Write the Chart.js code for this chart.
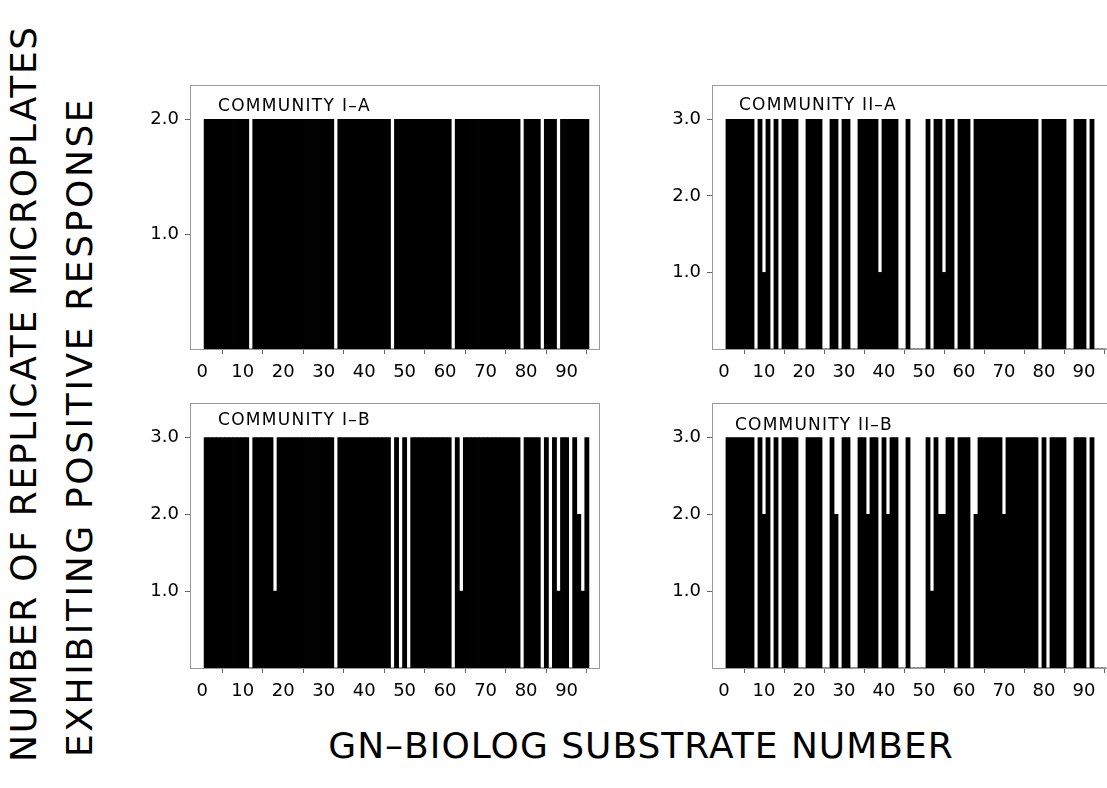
<!DOCTYPE html>
<html>
<head>
<meta charset="utf-8">
<script src="https://cdn.jsdelivr.net/npm/chart.js@4.4.1/dist/chart.umd.min.js"></script>
<style>
  html, body { margin: 0; padding: 0; background: #fff; overflow: hidden; }
  body { width: 1107px; height: 788px; position: relative; font-family: "DejaVu Sans", sans-serif; }
  canvas { position: absolute; }
  .label { position: absolute; font-size: 17px; line-height: 17px; letter-spacing: 1.3px; white-space: nowrap; color: #000; }
  .big { position: absolute; font-size: 36px; line-height: 36px; white-space: nowrap; color: #000; }
  .rot { transform-origin: left top; transform: rotate(-90deg); }
</style>
</head>
<body>
<canvas id="chartIA" width="473" height="313" style="left:130px;top:81px"></canvas>
<canvas id="chartIIA" width="460" height="313" style="left:652px;top:81px"></canvas>
<canvas id="chartIB" width="473" height="314" style="left:130px;top:399px"></canvas>
<canvas id="chartIIB" width="460" height="314" style="left:652px;top:399px"></canvas>

<div class="label" style="left:218px;top:97px">COMMUNITY I–A</div>
<div class="label" style="left:739px;top:96px;letter-spacing:1.2px">COMMUNITY II–A</div>
<div class="label" style="left:218px;top:411px">COMMUNITY I–B</div>
<div class="label" style="left:735px;top:416px;letter-spacing:1.2px">COMMUNITY II–B</div>

<div class="big rot" style="left:6px;top:762px;letter-spacing:1.7px">NUMBER OF REPLICATE MICROPLATES</div>
<div class="big rot" style="left:62px;top:757px;letter-spacing:2.6px">EXHIBITING POSITIVE RESPONSE</div>
<div class="big" style="left:0;width:1282px;text-align:center;top:728px;letter-spacing:1px">GN–BIOLOG SUBSTRATE NUMBER</div>

<script>
// substrate numbers 1..95 on the GN plate
const substrates = Array.from({ length: 95 }, (_, i) => i + 1);

const xTicks = [0, 10, 20, 30, 40, 50, 60, 70, 80, 90];
const yTicksI = [1, 2];
const yTicksII = [1, 2, 3];

// number of positive replicate plates per substrate
const communityIA = [
  2, 2, 2, 2, 2, 2, 2, 2, 2, 2,
  2, 0, 2, 2, 2, 2, 2, 2, 2, 2,
  2, 2, 2, 2, 2, 2, 2, 2, 2, 2,
  2, 2, 0, 2, 2, 2, 2, 2, 2, 2,
  2, 2, 2, 2, 2, 2, 0, 2, 2, 2,
  2, 2, 2, 2, 2, 2, 2, 2, 2, 2,
  2, 0, 2, 2, 2, 2, 2, 2, 2, 2,
  2, 2, 2, 2, 2, 2, 2, 2, 0, 2,
  2, 2, 2, 0, 2, 2, 2, 0, 2, 2,
  2, 2, 2, 2, 2,
];

const communityIIA = [
  3, 3, 3, 3, 3, 3, 3, 0, 3, 1,
  3, 0, 3, 0, 3, 3, 3, 3, 0, 0,
  3, 3, 3, 3, 0, 0, 3, 3, 0, 3,
  3, 0, 0, 3, 3, 3, 3, 3, 1, 3,
  3, 3, 3, 0, 0, 3, 0, 0, 0, 0,
  3, 0, 3, 3, 1, 3, 3, 0, 3, 3,
  3, 0, 3, 3, 3, 3, 3, 3, 3, 3,
  3, 3, 3, 3, 3, 3, 3, 3, 0, 3,
  3, 3, 3, 3, 3, 0, 0, 3, 3, 3,
  0, 3, 0, 0, 0,
];

const communityIB = [
  3, 3, 3, 3, 3, 3, 3, 3, 3, 3,
  3, 0, 3, 3, 3, 3, 3, 1, 3, 3,
  3, 3, 3, 3, 3, 3, 3, 3, 3, 3,
  3, 3, 0, 3, 3, 3, 3, 3, 3, 3,
  3, 3, 3, 3, 3, 3, 0, 3, 0, 3,
  0, 3, 3, 3, 3, 3, 3, 3, 3, 3,
  3, 0, 3, 1, 3, 3, 3, 3, 3, 3,
  3, 3, 3, 3, 3, 3, 3, 3, 0, 3,
  3, 3, 3, 0, 3, 0, 3, 1, 3, 3,
  0, 3, 2, 1, 3,
];

const communityIIB = [
  3, 3, 3, 3, 3, 3, 3, 0, 3, 2,
  3, 0, 3, 0, 3, 3, 3, 3, 0, 0,
  3, 3, 3, 3, 0, 0, 3, 2, 0, 3,
  3, 0, 0, 3, 3, 2, 3, 3, 0, 3,
  2, 3, 3, 0, 0, 3, 0, 0, 0, 0,
  3, 1, 3, 2, 2, 3, 3, 0, 3, 3,
  3, 0, 2, 3, 3, 3, 3, 3, 3, 2,
  3, 3, 3, 3, 3, 3, 3, 3, 0, 3,
  0, 3, 3, 3, 3, 0, 0, 3, 3, 3,
  0, 3, 0, 0, 0,
];

// light box round each plot area, under the bars
const framePlugin = {
  id: "frame",
  beforeDatasetsDraw(chart) {
    const { ctx, chartArea: a } = chart;
    ctx.save();
    ctx.strokeStyle = "#9a9a9a";
    ctx.lineWidth = 1;
    ctx.strokeRect(Math.round(a.left) + 0.5, Math.round(a.top) + 0.5,
      Math.round(a.right - a.left), Math.round(a.bottom - a.top));
    ctx.restore();
  },
};

function makePanel(id, values, xMax, yMax, yTicks) {
  const ctx = document.getElementById(id).getContext("2d");
  return new Chart(ctx, {
    type: "bar",
    data: {
      datasets: [
        {
          data: values.map((v, i) => ({ x: substrates[i], y: v })),
          backgroundColor: "#000",
          borderWidth: 0,
          barPercentage: 1,
          categoryPercentage: 1,
          inflateAmount: 0.4,
        },
      ],
    },
    options: {
      responsive: false,
      animation: false,
      devicePixelRatio: 1,
      layout: { padding: { top: 4, right: 4, left: 0, bottom: 0 } },
      plugins: { legend: { display: false }, tooltip: { enabled: false } },
      scales: {
        x: {
          type: "linear",
          min: -3,
          max: xMax,
          offset: false,
          grid: { drawOnChartArea: false, tickLength: 5, color: "#666" },
          border: { color: "#888" },
          ticks: {
            color: "#000",
            font: { family: "DejaVu Sans", size: 18 },
            padding: 8,
            maxRotation: 0,
            autoSkip: false,
          },
          afterBuildTicks: (axis) => {
            axis.ticks = xTicks.map((v) => ({ value: v }));
          },
          afterFit: (axis) => {
            axis.height = 45;
            axis.paddingLeft = 0;
            axis.paddingRight = 0;
          },
        },
        y: {
          min: 0,
          max: yMax,
          grid: { drawOnChartArea: false, tickLength: 5, color: "#666" },
          border: { color: "#9a9a9a" },
          ticks: {
            color: "#000",
            font: { family: "DejaVu Sans", size: 18 },
            padding: 6,
            callback: (v) => Number(v).toFixed(1),
          },
          afterBuildTicks: (axis) => {
            axis.ticks = yTicks.map((v) => ({ value: v }));
          },
          afterFit: (axis) => {
            axis.width = 60;
            axis.paddingTop = 0;
            axis.paddingBottom = 0;
          },
        },
      },
    },
    plugins: [framePlugin],
  });
}

makePanel("chartIA", communityIA, 98, 2.3, yTicksI);
makePanel("chartIIA", communityIIA, 96, 3.45, yTicksII);
makePanel("chartIB", communityIB, 98, 3.45, yTicksII);
makePanel("chartIIB", communityIIB, 96, 3.45, yTicksII);
</script>
</body>
</html>
